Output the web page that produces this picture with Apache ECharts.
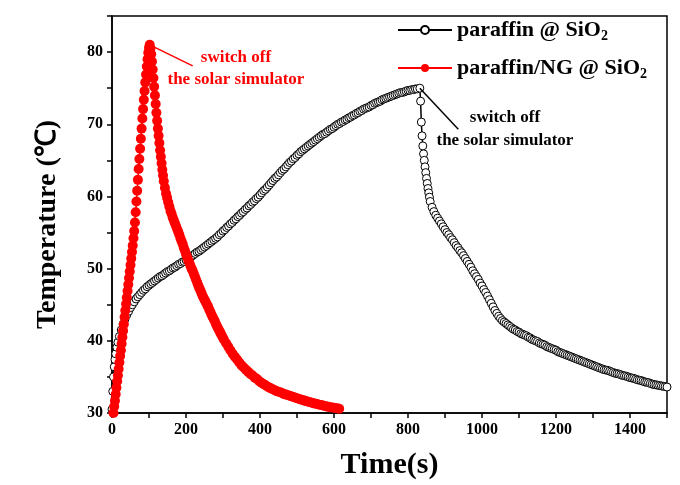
<!DOCTYPE html>
<html><head><meta charset="utf-8">
<script src="https://cdn.jsdelivr.net/npm/echarts@6/dist/echarts.min.js"></script>
<style>html,body{margin:0;padding:0;background:#fff}#c{width:680px;height:485px}</style>
</head><body><div id="c"></div>
<script>
// ---- data (time s, temperature °C) ----
const xTickLabels = [0, 200, 400, 600, 800, 1000, 1200, 1400];
const yTickLabels = [30, 40, 50, 60, 70, 80];
const seriesNames = ['paraffin @ SiO2', 'paraffin/NG @ SiO2'];

const blackHeat = [
  [0,30.5],[2,33.0],[4,35.0],[6,36.4],[8,37.4],[10,38.2],[13,39.1],[16,39.8],[20,40.6],[25,41.5],
  [30,42.3],[35,43.0],[40,43.6],[45,44.1],[50,44.6],[55,45.0],[60,45.4],[65,45.8],[70,46.1],[75,46.4],
  [80,46.7],[85,47.0],[90,47.2],[95,47.5],[100,47.7],[105,47.9],[110,48.1],[115,48.3],[120,48.5],[125,48.7],
  [130,48.9],[135,49.0],[140,49.2],[145,49.4],[150,49.6],[155,49.7],[160,49.9],[165,50.1],[170,50.2],[175,50.4],
  [180,50.6],[185,50.7],[190,50.9],[195,51.0],[200,51.2],[205,51.4],[210,51.6],[215,51.7],[220,51.9],[225,52.1],
  [230,52.3],[235,52.4],[240,52.6],[245,52.8],[250,53.0],[255,53.2],[260,53.4],[265,53.6],[270,53.8],[275,54.0],
  [280,54.2],[285,54.4],[290,54.7],[295,54.9],[300,55.2],[305,55.4],[310,55.7],[315,55.9],[320,56.2],[325,56.4],
  [330,56.7],[335,56.9],[340,57.2],[345,57.4],[350,57.7],[355,57.9],[360,58.2],[365,58.4],[370,58.7],[375,58.9],
  [380,59.2],[385,59.4],[390,59.7],[395,59.9],[400,60.2],[405,60.5],[410,60.8],[415,61.0],[420,61.3],[425,61.6],
  [430,61.9],[435,62.2],[440,62.5],[445,62.7],[450,63.0],[455,63.3],[460,63.6],[465,63.8],[470,64.1],[475,64.4],
  [480,64.7],[485,64.9],[490,65.2],[495,65.4],[500,65.7],[505,65.9],[510,66.2],[515,66.4],[520,66.6],[525,66.8],
  [530,67.0],[535,67.2],[540,67.4],[545,67.6],[550,67.8],[555,68.0],[560,68.2],[565,68.4],[570,68.6],[575,68.7],
  [580,68.9],[585,69.1],[590,69.3],[595,69.4],[600,69.6],[605,69.8],[610,70.0],[615,70.1],[620,70.3],[625,70.4],
  [630,70.6],[635,70.7],[640,70.9],[645,71.0],[650,71.2],[655,71.3],[660,71.5],[665,71.6],[670,71.8],[675,71.9],
  [680,72.1],[685,72.2],[690,72.3],[695,72.4],[700,72.6],[705,72.7],[710,72.9],[715,73.0],[720,73.1],[725,73.2],
  [730,73.4],[735,73.5],[740,73.6],[745,73.7],[750,73.8],[755,73.9],[760,74.0],[765,74.1],[770,74.2],[775,74.3],
  [780,74.4],[785,74.4],[790,74.5],[795,74.6],[800,74.7],[805,74.7],[810,74.8],[815,74.8],[820,74.9],[825,74.9],
  [832,75.0]
];
const blackCool = [
  [834,73.2],[836,70.3],[838,68.4],[840,67.0],[842,65.9],[844,65.0],[846,64.1],[848,63.3],[850,62.5],[852,61.8],
  [854,61.1],[856,60.5],[858,59.9],[860,59.3],[865,58.5],[870,57.9],[875,57.4],[880,57.0],[885,56.6],[890,56.2],
  [895,55.8],[900,55.4],[905,55.0],[910,54.7],[915,54.3],[920,54.0],[925,53.6],[930,53.2],[935,52.9],[940,52.5],
  [945,52.2],[950,51.8],[955,51.4],[960,51.0],[965,50.6],[970,50.2],[975,49.7],[980,49.3],[985,48.9],[990,48.5],
  [995,48.0],[1000,47.6],[1005,47.1],[1010,46.7],[1015,46.2],[1020,45.7],[1025,45.2],[1030,44.7],[1035,44.2],[1040,43.8],
  [1045,43.4],[1050,43.1],[1055,42.8],[1060,42.6],[1065,42.4],[1070,42.2],[1075,42.0],[1080,41.8],[1085,41.6],[1090,41.5],
  [1095,41.3],[1100,41.2],[1105,41.0],[1110,40.9],[1115,40.8],[1120,40.7],[1125,40.5],[1130,40.4],[1135,40.2],[1140,40.1],
  [1145,40.0],[1150,39.9],[1155,39.7],[1160,39.6],[1165,39.5],[1170,39.4],[1175,39.2],[1180,39.1],[1185,39.0],[1190,38.9],
  [1195,38.8],[1200,38.7],[1205,38.5],[1210,38.4],[1215,38.3],[1220,38.2],[1225,38.1],[1230,38.0],[1235,37.9],[1240,37.8],
  [1245,37.7],[1250,37.6],[1255,37.5],[1260,37.4],[1265,37.3],[1270,37.2],[1275,37.1],[1280,37.0],[1285,36.9],[1290,36.8],
  [1295,36.7],[1300,36.6],[1305,36.5],[1310,36.4],[1315,36.3],[1320,36.2],[1325,36.1],[1330,36.0],[1335,35.95],[1340,35.9],
  [1345,35.8],[1350,35.7],[1355,35.6],[1360,35.5],[1365,35.45],[1370,35.4],[1375,35.3],[1380,35.2],[1385,35.15],[1390,35.1],
  [1395,35.0],[1400,34.9],[1405,34.85],[1410,34.8],[1415,34.7],[1420,34.6],[1425,34.55],[1430,34.5],[1435,34.4],[1440,34.3],
  [1445,34.25],[1450,34.2],[1455,34.1],[1460,34.0],[1465,33.95],[1470,33.9],[1475,33.85],[1480,33.8],[1485,33.75],[1490,33.7],
  [1495,33.65],[1500,33.6]
];
const redRise = [
  [4,30.0],[6,30.9],[8,31.7],[10,32.6],[12,33.5],[14,34.4],[16,35.2],[18,36.1],[20,37.0],[22,37.9],
  [24,38.7],[26,39.6],[28,40.5],[30,41.4],[32,42.3],[34,43.3],[36,44.2],[38,45.1],[40,46.0],[42,46.9],
  [44,47.8],[46,48.7],[48,49.6],[50,50.5],[52,51.4],[54,52.3],[56,53.2],[58,54.2],[60,55.2],[62,56.4],
  [64,57.8],[66,59.3],[68,60.8],[70,62.3],[72,63.8],[74,65.2],[76,66.6],[78,68.0],[80,69.4],[82,70.8],
  [84,72.1],[86,73.4],[88,74.6],[90,75.8],[92,76.9],[94,78.0],[96,79.0],[98,79.9],[100,80.6],[102,81.0]
];
const redDecay = [
  [104,80.5],[106,79.7],[108,78.7],[110,77.6],[112,76.4],[114,75.2],[116,74.0],[118,72.8],[120,71.6],[122,70.5],
  [124,69.4],[126,68.4],[128,67.4],[130,66.4],[132,65.5],[134,64.6],[136,63.7],[138,62.9],[140,62.1],[143,61.2],
  [146,60.4],[149,59.8],[152,59.2],[155,58.6],[158,58.0],[161,57.6],[164,57.1],[167,56.7],[170,56.3],[173,55.9],
  [176,55.5],[179,55.1],[182,54.7],[185,54.2],[188,53.8],[191,53.4],[194,52.9],[197,52.5],[200,52.0],[203,51.6],
  [206,51.2],[209,50.8],[212,50.4],[215,50.0],[218,49.7],[221,49.3],[224,48.9],[227,48.5],[230,48.1],[233,47.7],
  [236,47.3],[239,47.0],[242,46.6],[245,46.2],[248,45.9],[251,45.6],[254,45.3],[257,45.0],[260,44.7],[263,44.3],
  [266,44.0],[269,43.6],[272,43.3],[275,43.0],[278,42.7],[281,42.3],[284,42.0],[287,41.7],[290,41.4],[293,41.1],
  [296,40.8],[299,40.5],[302,40.2],[308,39.7],[314,39.2],[320,38.7],[326,38.2],[332,37.8],[338,37.4],[344,37.0],
  [350,36.6],[356,36.3],[362,36.0],[368,35.7],[374,35.4],[380,35.2],[386,34.9],[392,34.7],[398,34.4],[404,34.2],
  [410,34.0],[416,33.8],[422,33.6],[428,33.45],[434,33.3],[440,33.15],[446,33.0],[452,32.9],[458,32.8],[464,32.65],
  [470,32.55],[476,32.45],[482,32.35],[488,32.25],[494,32.15],[500,32.05],[506,31.95],[512,31.85],[518,31.75],[524,31.65],
  [530,31.55],[536,31.5],[542,31.4],[548,31.3],[554,31.25],[560,31.15],[566,31.1],[572,31.0],[578,30.95],[584,30.85],
  [590,30.8],[596,30.75],[602,30.7],[608,30.65],[614,30.6]
];
// annotation anchors (data space)
const redArrow = [[102, 81.0], [218, 78.1]];
const blackArrow = [[832, 75.0], [936, 69.3]];
const redNote = [335, 77.7];
const blackNote = [1062, 69.3];
const noteText = 'switch off\nthe solar simulator';

const FONT = '"Liberation Serif","Times New Roman",serif';
const chart = echarts.init(document.getElementById('c'), null, {renderer: 'canvas'});
chart.setOption({
  animation: false,
  backgroundColor: '#fff',
  grid: {left: 112, top: 16, width: 555, height: 399, show: true, borderColor: '#000', borderWidth: 1.5, backgroundColor: 'transparent'},
  legend: {
    orient: 'vertical', left: 392, top: 12, itemGap: 12, itemWidth: 54, itemHeight: 10,
    data: seriesNames,
    formatter: n => '{t|' + n.replace(/2$/, '') + '}{s|2}',
    textStyle: {
      rich: {
        t: {fontFamily: FONT, fontWeight: 'bold', fontSize: 22, color: '#000', lineHeight: 26},
        s: {fontFamily: FONT, fontWeight: 'bold', fontSize: 14, color: '#000', lineHeight: 26, padding: [12, 0, 0, 0]}
      }
    }
  },
  xAxis: {
    type: 'value', min: 0, max: 1500, interval: 100,
    name: 'Time(s)', nameLocation: 'middle', nameGap: 37,
    nameTextStyle: {fontFamily: FONT, fontWeight: 'bold', fontSize: 30, color: '#000'},
    axisLine: {show: true, lineStyle: {color: '#000', width: 1.5}},
    axisTick: {show: true, length: 5, lineStyle: {color: '#000', width: 1.5}},
    axisLabel: {margin: 9, fontFamily: FONT, fontWeight: 'bold', fontSize: 16, color: '#000',
      formatter: v => xTickLabels.includes(v) ? String(v) : ''},
    splitLine: {show: false}
  },
  yAxis: {
    type: 'value', min: 30, max: 85, interval: 5,
    name: 'Temperature (℃)', nameLocation: 'middle', nameGap: 50,
    nameTextStyle: {fontFamily: FONT, fontWeight: 'bold', fontSize: 28, color: '#000', padding: [0, 20, 0, 0]},
    axisLine: {show: true, lineStyle: {color: '#000', width: 1.5}},
    axisTick: {show: true, length: 5, lineStyle: {color: '#000', width: 1.5}},
    axisLabel: {margin: 9, fontFamily: FONT, fontWeight: 'bold', fontSize: 16, color: '#000',
      formatter: v => yTickLabels.includes(v) ? String(v) : ''},
    splitLine: {show: false}
  },
  series: [
    {
      name: seriesNames[0], type: 'line', data: blackHeat.concat(blackCool),
      symbol: 'circle', symbolSize: 8, showAllSymbol: true,
      itemStyle: {color: '#fff', borderColor: '#000', borderWidth: 1},
      lineStyle: {color: '#000', width: 1.5},
      markLine: {
        silent: true, symbol: ['none', 'arrow'], symbolSize: [0, 11],
        lineStyle: {color: '#000', width: 1.5, type: 'solid'}, label: {show: false},
        data: [[{coord: blackArrow[0]}, {coord: blackArrow[1]}]]
      },
      markPoint: {
        silent: true, symbol: 'circle', symbolSize: 0,
        label: {show: true, position: 'inside', formatter: noteText, fontFamily: FONT, fontWeight: 'bold', fontSize: 17, color: '#000', lineHeight: 23, align: 'center'},
        data: [{coord: blackNote}]
      }
    },
    {
      name: seriesNames[1], type: 'line', data: redRise.concat(redDecay),
      symbol: 'circle', symbolSize: 10, showAllSymbol: true,
      itemStyle: {color: '#ff0000'},
      lineStyle: {color: '#ff0000', width: 1.5},
      markLine: {
        silent: true, symbol: ['none', 'arrow'], symbolSize: [0, 11],
        lineStyle: {color: '#ff0000', width: 1.5, type: 'solid'}, label: {show: false},
        data: [[{coord: redArrow[0]}, {coord: redArrow[1]}]]
      },
      markPoint: {
        silent: true, symbol: 'circle', symbolSize: 0,
        label: {show: true, position: 'inside', formatter: noteText, fontFamily: FONT, fontWeight: 'bold', fontSize: 17, color: '#ff0000', lineHeight: 22, align: 'center'},
        data: [{coord: redNote}]
      }
    }
  ]
});
</script></body></html>
